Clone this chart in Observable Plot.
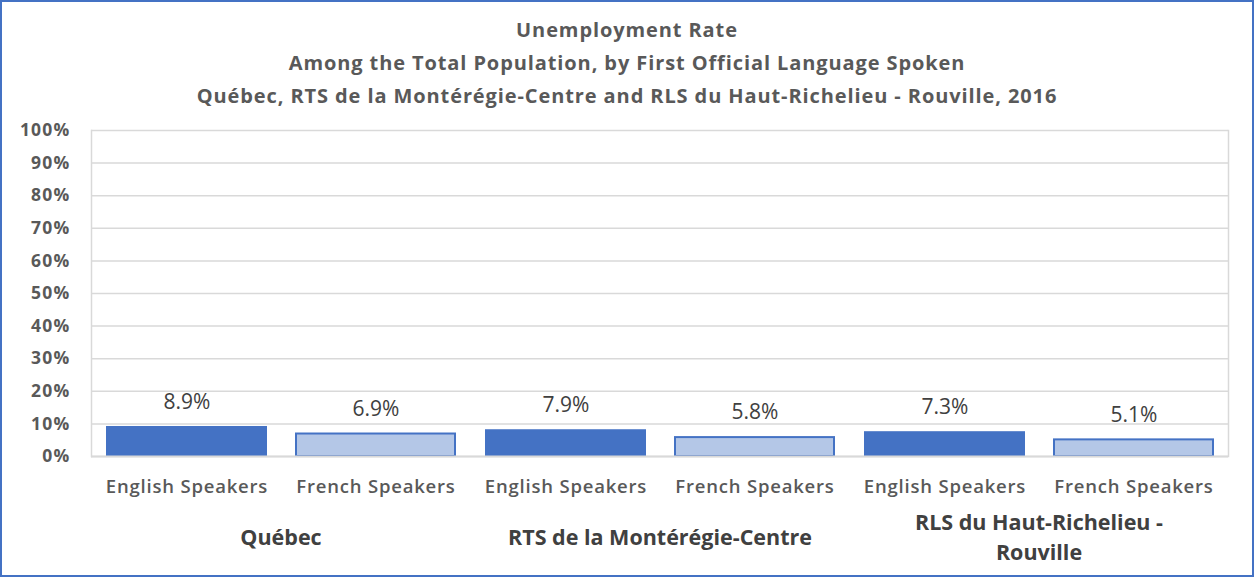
<!DOCTYPE html>
<html>
<head>
<meta charset="utf-8">
<script src="https://cdn.jsdelivr.net/npm/d3@7"></script>
<script src="https://cdn.jsdelivr.net/npm/@observablehq/plot@0.6"></script>
<style>
  html, body { margin: 0; padding: 0; background: #fff; }
  #wrap { position: relative; width: 1254px; height: 577px; overflow: hidden; font-family: "Open Sans", Lato, sans-serif; }
  #border { position: absolute; left: 0; top: 0; width: 1254px; height: 577px; box-sizing: border-box; border: 2px solid #4472C4; pointer-events: none; }
  #title { position: absolute; left: 0; top: 13px; width: 1254px; text-align: center; color: #595959; font-weight: bold; font-size: 20px; line-height: 33px; letter-spacing: 0.9px; }
  #chart { position: absolute; left: 0; top: 115px; }
</style>
</head>
<body>
<div id="wrap">
  <div id="title">
    <div>Unemployment Rate</div>
    <div>Among the Total Population, by First Official Language Spoken</div>
    <div>Québec, RTS de la Montérégie-Centre and RLS du Haut-Richelieu - Rouville, 2016</div>
  </div>
  <div id="chart"></div>
  <div id="border"></div>
</div>
<script>
const groups = ["Québec", "RTS de la Montérégie-Centre", "RLS du Haut-Richelieu - Rouville"];
const groupLabels = ["Québec", "RTS de la Montérégie-Centre", "RLS du Haut-Richelieu -\nRouville"];
const languages = ["English Speakers", "French Speakers"];
const englishRates = [8.9, 7.9, 7.3];
const frenchRates = [6.9, 5.8, 5.1];
const yTicks = [0, 10, 20, 30, 40, 50, 60, 70, 80, 90, 100];

const data = groups.flatMap((g, i) => [
  {group: g, lang: languages[0], value: englishRates[i]},
  {group: g, lang: languages[1], value: frenchRates[i]}
]);
const groupData = groups.map((g, i) => ({group: g, label: groupLabels[i]}));

const chart = Plot.plot({
  width: 1254,
  height: 460,
  marginLeft: 91,
  marginRight: 26,
  marginTop: 15,
  marginBottom: 119,
  style: {fontFamily: "'Open Sans', Lato, sans-serif", background: "transparent", overflow: "visible"},
  fx: {domain: groups, padding: 0, axis: null},
  x: {domain: languages, paddingInner: 0.16, paddingOuter: 0.08},
  y: {domain: [0, 100]},
  color: {domain: languages, range: ["#4472C4", "#B4C7E7"]},
  marks: [
    Plot.gridY(yTicks, {stroke: "#d9d9d9", strokeOpacity: 1, strokeWidth: 1.5}),
    Plot.frame({anchor: "left", facetAnchor: "left", stroke: "#d9d9d9", strokeWidth: 1.5}),
    Plot.frame({anchor: "right", facetAnchor: "right", stroke: "#d9d9d9", strokeWidth: 1.5}),
    Plot.axisY(yTicks, {anchor: "left", tickSize: 0, tickPadding: 21, tickFormat: d => d + "%", fontSize: 17.5, fontWeight: "bold", fill: "#595959", label: null}),
    Plot.barY(data, {fx: "group", x: "lang", y: "value", fill: "lang", stroke: "#4472C4", strokeWidth: 2}),
    Plot.ruleY([0], {stroke: "#d9d9d9", strokeWidth: 2}),
    Plot.text(data, {fx: "group", x: "lang", y: "value", text: d => d.value.toFixed(1) + "%", dy: -25, fontSize: 21, fill: "#404040", ariaLabel: "valuelabel"}),
    Plot.axisX({anchor: "bottom", tickSize: 0, tickPadding: 23, fontSize: 18.5, fontWeight: 600, fill: "#595959", label: null}),
    Plot.text(groupData, {fx: "group", text: "label", frameAnchor: "bottom", lineAnchor: "middle", dy: 79, fontSize: 21.5, fontWeight: "bold", fill: "#404040", lineHeight: 1.4, ariaLabel: "grouplabel"})
  ]
});
const sel = d3.select(chart);
sel.selectAll('[aria-label="y-axis tick label"] text').style("letter-spacing", "1.2px");
sel.selectAll('[aria-label="x-axis tick label"] text').style("letter-spacing", "0.8px");
sel.selectAll('[aria-label="valuelabel"] text').style("letter-spacing", "1px");
sel.selectAll('[aria-label="grouplabel"] text').style("letter-spacing", "1.1px");
document.getElementById("chart").appendChild(chart);
</script>
</body>
</html>
